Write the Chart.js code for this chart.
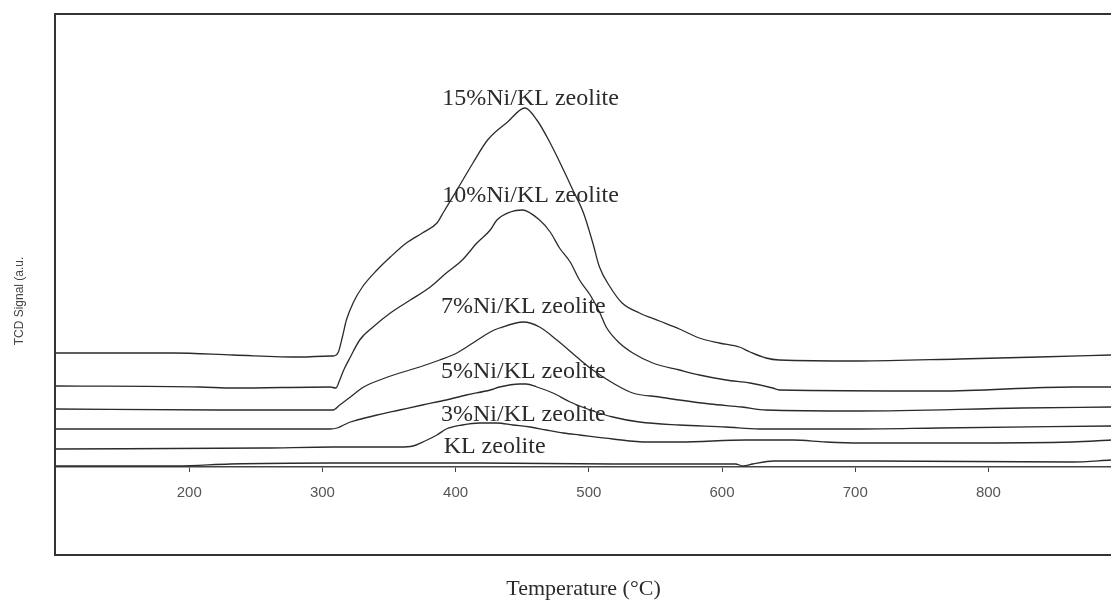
<!DOCTYPE html>
<html>
<head>
<meta charset="utf-8">
<script src="https://cdn.jsdelivr.net/npm/chart.js@4.4.1/dist/chart.umd.min.js"></script>
<style>
  body { margin: 0; background: #fff; }
  canvas { display: block; }
</style>
</head>
<body>
<canvas id="tpr" width="1111" height="601"></canvas>
<script>
// TPR traces, temperature in °C, signal in a.u. (offset stacked)
const seriesNames = ["15%Ni/KL zeolite", "10%Ni/KL zeolite", "7%Ni/KL zeolite", "5%Ni/KL zeolite", "3%Ni/KL zeolite", "KL zeolite"];

const temp15 = [100, 188, 233, 283, 306, 308, 312, 315, 318, 323, 330, 341, 351, 363, 375, 386, 391, 401, 413, 424, 439, 452, 461, 471, 481, 488, 496, 503, 508, 516, 525, 538, 553, 568, 583, 598, 613, 621, 633, 643, 703, 778, 838, 892];
const sig15 = [114, 114, 112, 110, 111, 111, 115, 130, 147, 164, 180, 197, 210, 224, 234, 244, 255, 277, 304, 327, 345, 359, 347, 324, 297, 277, 254, 224, 200, 180, 164, 154, 146, 138, 129, 124, 120, 115, 109, 107, 106, 108, 110, 112];

const temp10 = [100, 208, 233, 306, 310, 313, 316, 321, 328, 338, 351, 366, 381, 393, 405, 416, 426, 431, 441, 450, 463, 471, 478, 486, 493, 501, 508, 513, 523, 533, 548, 568, 583, 603, 621, 638, 643, 763, 863, 892];
const sig10 = [81, 80, 79, 80, 79, 87, 97, 110, 127, 140, 154, 167, 180, 194, 207, 224, 237, 247, 255, 257, 247, 235, 219, 205, 187, 172, 155, 140, 124, 114, 104, 97, 92, 87, 84, 79, 77, 76, 80, 80];

const temp7 = [100, 221, 308, 313, 321, 331, 343, 358, 373, 388, 401, 413, 426, 433, 451, 463, 476, 491, 503, 518, 533, 553, 568, 591, 615, 633, 703, 825, 892];
const sig7 = [58, 57, 57, 62, 70, 80, 87, 94, 100, 107, 114, 124, 135, 139, 145, 140, 127, 110, 97, 84, 74, 70, 67, 63, 60, 57, 56, 59, 60];

const temp5 = [100, 251, 306, 311, 316, 321, 326, 341, 358, 375, 393, 408, 426, 433, 448, 453, 461, 473, 486, 501, 518, 538, 568, 603, 628, 703, 763, 892];
const sig5 = [38, 38, 38, 39, 42, 45, 47, 52, 57, 62, 67, 72, 77, 80, 83, 83, 80, 74, 65, 57, 50, 45, 42, 40, 38, 38, 39, 41];

const temp3 = [100, 256, 308, 358, 368, 377, 386, 393, 405, 418, 431, 443, 456, 468, 481, 493, 518, 544, 568, 618, 653, 678, 703, 778, 863, 892];
const sig3 = [18, 19, 20, 20, 21, 26, 32, 38, 42, 44, 44, 42, 40, 37, 34, 32, 28, 25, 25, 27, 27, 25, 24, 24, 25, 27];

const tempKL = [100, 191, 231, 306, 381, 418, 518, 568, 610, 616, 623, 639, 713, 863, 892];
const sigKL = [1, 1, 3, 4, 4, 4, 3, 3, 3, 1, 3, 6, 6, 5, 7];

const tickTemps = [200, 300, 400, 500, 600, 700, 800];

// where each curve label sits (left edge temp, baseline signal)
const labelTemp = [390, 390, 389, 389, 389, 391];
const labelSig = [362, 265, 154, 89, 46, 14];

const temps = [temp15, temp10, temp7, temp5, temp3, tempKL];
const sigs = [sig15, sig10, sig7, sig5, sig3, sigKL];

const datasets = seriesNames.map((name, i) => ({
  label: name,
  data: temps[i].map((t, j) => ({ x: t, y: sigs[i][j] })),
  borderColor: "#2b2b2b",
  borderWidth: 1.3,
  pointRadius: 0,
  cubicInterpolationMode: "monotone",
  fill: false,
}));

const decor = {
  id: "decor",
  afterDraw(chart) {
    const ctx = chart.ctx;
    const xs = chart.scales.x;
    const ys = chart.scales.y;
    ctx.save();

    // outer frame
    ctx.strokeStyle = "#333";
    ctx.lineWidth = 2;
    ctx.beginPath();
    ctx.moveTo(1111, 14);
    ctx.lineTo(55, 14);
    ctx.lineTo(55, 555);
    ctx.lineTo(1111, 555);
    ctx.stroke();

    // curve labels
    ctx.fillStyle = "#2b2b2b";
    ctx.font = "24px 'Liberation Serif'";
    ctx.textBaseline = "alphabetic";
    ctx.textAlign = "left";
    seriesNames.forEach((name, i) => {
      ctx.fillText(name, xs.getPixelForValue(labelTemp[i]), ys.getPixelForValue(labelSig[i]));
    });

    // y title
    ctx.fillStyle = "#444";
    ctx.font = "12px 'Liberation Sans'";
    ctx.textAlign = "center";
    ctx.textBaseline = "middle";
    ctx.translate(20, 301);
    ctx.rotate(-Math.PI / 2);
    ctx.fillText("TCD Signal (a.u.", 0, 0);
    ctx.restore();
  },
};

new Chart(document.getElementById("tpr"), {
  type: "line",
  data: { datasets },
  plugins: [decor],
  options: {
    responsive: false,
    animation: false,
    devicePixelRatio: 1,
    layout: { padding: { left: 56, top: 15, right: 0, bottom: 0 } },
    plugins: { legend: { display: false }, tooltip: { enabled: false } },
    scales: {
      x: {
        type: "linear",
        min: 100,
        max: 892,
        afterBuildTicks: (s) => { s.ticks = tickTemps.map((v) => ({ value: v })); },
        afterFit: (s) => { s.height = 134; },
        border: { display: true, color: "#444", width: 1.5 },
        grid: { drawOnChartArea: false, drawTicks: true, tickLength: 5, color: "#444" },
        ticks: { padding: 12, color: "#555", font: { family: "'Liberation Sans'", size: 15 }, maxRotation: 0 },
        title: {
          display: true,
          text: "Temperature (°C)",
          color: "#2b2b2b",
          font: { family: "'Liberation Serif'", size: 22, lineHeight: 1 },
          padding: { top: 0, bottom: 1 },
        },
      },
      y: {
        display: false,
        min: 0,
        max: 452,
      },
    },
  },
});
</script>
</body>
</html>
